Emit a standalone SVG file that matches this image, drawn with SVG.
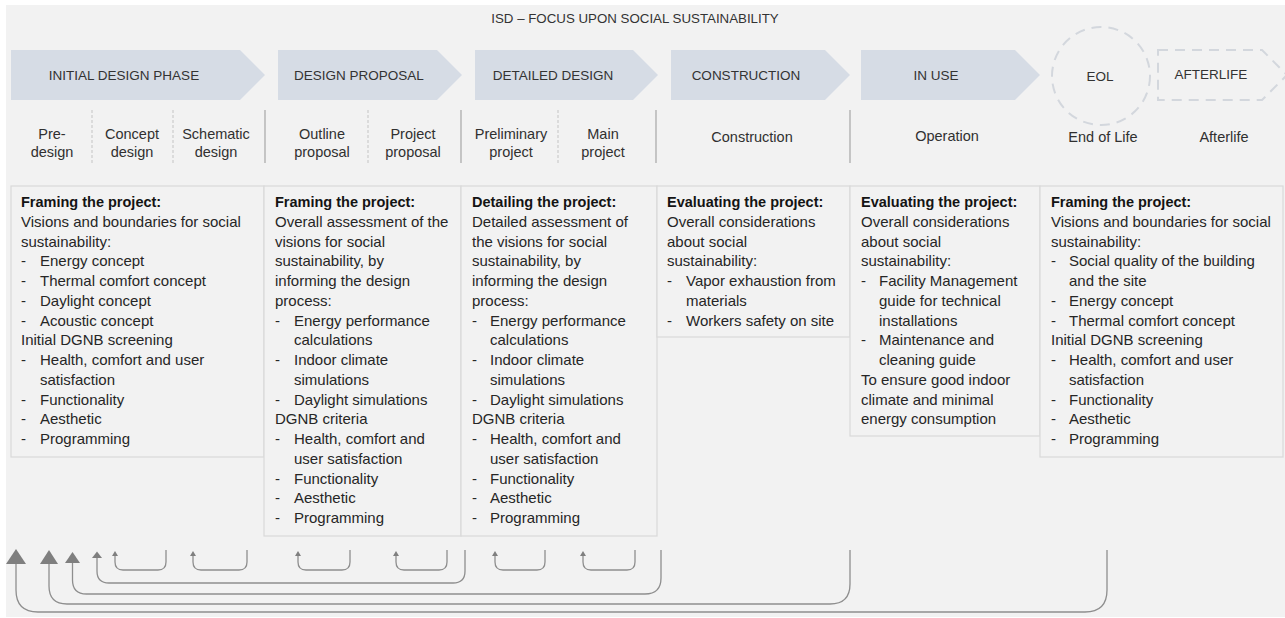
<svg xmlns="http://www.w3.org/2000/svg" width="1285" height="618" viewBox="0 0 1285 618">
<defs>
<style>
.bg{fill:#f2f2f2}
.chev{fill:#d6dce5}
.dash{fill:none;stroke:#d3d7dd;stroke-width:2;stroke-dasharray:10 7}
.ttl{font-family:"Liberation Sans",Arial,sans-serif;font-size:13.3px;fill:#333333}
.ph{font-family:"Liberation Sans",Arial,sans-serif;font-size:13.5px;fill:#333333;text-anchor:middle}
.sub{font-family:"Liberation Sans",Arial,sans-serif;font-size:14.5px;fill:#303030;text-anchor:middle}
.sepd{stroke:#c4c4c4;stroke-width:1;stroke-dasharray:3 2}
.seps{stroke:#a6a6a6;stroke-width:1.2}
.box{fill:#f2f2f2;stroke:#d9d9d9;stroke-width:1.2}
.bt{font-family:"Liberation Sans",Arial,sans-serif;font-size:15px;fill:#262626}
.bh{font-weight:bold;font-size:14.5px;fill:#141414}
.ln{fill:none;stroke:#8e8e8e;stroke-width:1.3}
.ah{fill:#7f7f7f}
</style>
</defs>
<rect class="bg" x="6" y="5" width="1279" height="612"/>
<text class="ttl" x="635" y="23" text-anchor="middle">ISD – FOCUS UPON SOCIAL SUSTAINABILITY</text>

<g id="phase-initial">
<polygon class="chev" points="11,50 240,50 265,75 240,100 11,100"/>
<text class="ph" x="124" y="80">INITIAL DESIGN PHASE</text>
<text class="sub" x="52" y="139">Pre-</text><text class="sub" x="52" y="157">design</text>
<line class="sepd" x1="92" y1="110" x2="92" y2="163"/>
<text class="sub" x="132" y="139">Concept</text><text class="sub" x="132" y="157">design</text>
<line class="sepd" x1="173" y1="110" x2="173" y2="163"/>
<text class="sub" x="216" y="139">Schematic</text><text class="sub" x="216" y="157">design</text>
<line class="seps" x1="265" y1="110" x2="265" y2="163"/>
</g>
<g id="phase-proposal">
<polygon class="chev" points="278,50 437,50 462,75 437,100 278,100"/>
<text class="ph" x="359" y="80">DESIGN PROPOSAL</text>
<text class="sub" x="322" y="139">Outline</text><text class="sub" x="322" y="157">proposal</text>
<line class="sepd" x1="368" y1="110" x2="368" y2="163"/>
<text class="sub" x="413" y="139">Project</text><text class="sub" x="413" y="157">proposal</text>
<line class="seps" x1="461" y1="110" x2="461" y2="163"/>
</g>
<g id="phase-detailed">
<polygon class="chev" points="475,50 633,50 658,75 633,100 475,100"/>
<text class="ph" x="553" y="80">DETAILED DESIGN</text>
<text class="sub" x="511" y="139">Preliminary</text><text class="sub" x="511" y="157">project</text>
<line class="sepd" x1="558" y1="110" x2="558" y2="163"/>
<text class="sub" x="603" y="139">Main</text><text class="sub" x="603" y="157">project</text>
<line class="seps" x1="656" y1="110" x2="656" y2="163"/>
</g>
<g id="phase-construction">
<polygon class="chev" points="671,50 825,50 850,75 825,100 671,100"/>
<text class="ph" x="746" y="80">CONSTRUCTION</text>
<text class="sub" x="752" y="142">Construction</text>
<line class="seps" x1="850" y1="110" x2="850" y2="163"/>
</g>
<g id="phase-inuse">
<polygon class="chev" points="861,50 1015,50 1040,75 1015,100 861,100"/>
<text class="ph" x="936" y="80">IN USE</text>
<text class="sub" x="947" y="141">Operation</text>
</g>
<g id="phase-eol">
<circle class="dash" cx="1101" cy="76" r="49"/>
<text class="ph" x="1100" y="81">EOL</text>
<text class="sub" x="1103" y="142">End of Life</text>
</g>
<g id="phase-afterlife">
<polygon class="dash" points="1158,50 1262,50 1287,75 1262,100 1158,100"/>
<text class="ph" x="1211" y="79">AFTERLIFE</text>
<text class="sub" x="1224" y="142">Afterlife</text>
</g>

<g id="box-initial">
<rect class="box" x="11" y="186" width="253" height="271"/>
<text class="bt">
<tspan class="bh" x="21" y="207">Framing the project:</tspan>
<tspan x="21" y="226.75">Visions and boundaries for social</tspan>
<tspan x="21" y="246.5">sustainability:</tspan>
<tspan x="21" y="266.25">-</tspan><tspan x="40" y="266.25">Energy concept</tspan>
<tspan x="21" y="286">-</tspan><tspan x="40" y="286">Thermal comfort concept</tspan>
<tspan x="21" y="305.75">-</tspan><tspan x="40" y="305.75">Daylight concept</tspan>
<tspan x="21" y="325.5">-</tspan><tspan x="40" y="325.5">Acoustic concept</tspan>
<tspan x="21" y="345.25">Initial DGNB screening</tspan>
<tspan x="21" y="365">-</tspan><tspan x="40" y="365">Health, comfort and user</tspan>
<tspan x="40" y="384.75">satisfaction</tspan>
<tspan x="21" y="404.5">-</tspan><tspan x="40" y="404.5">Functionality</tspan>
<tspan x="21" y="424.25">-</tspan><tspan x="40" y="424.25">Aesthetic</tspan>
<tspan x="21" y="444">-</tspan><tspan x="40" y="444">Programming</tspan>
</text>
</g>
<g id="box-proposal">
<rect class="box" x="264" y="186" width="197" height="350"/>
<text class="bt">
<tspan class="bh" x="275" y="207">Framing the project:</tspan>
<tspan x="275" y="226.75">Overall assessment of the</tspan>
<tspan x="275" y="246.5">visions for social</tspan>
<tspan x="275" y="266.25">sustainability, by</tspan>
<tspan x="275" y="286">informing the design</tspan>
<tspan x="275" y="305.75">process:</tspan>
<tspan x="275" y="325.5">-</tspan><tspan x="294" y="325.5">Energy performance</tspan>
<tspan x="294" y="345.25">calculations</tspan>
<tspan x="275" y="365">-</tspan><tspan x="294" y="365">Indoor climate</tspan>
<tspan x="294" y="384.75">simulations</tspan>
<tspan x="275" y="404.5">-</tspan><tspan x="294" y="404.5">Daylight simulations</tspan>
<tspan x="275" y="424.25">DGNB criteria</tspan>
<tspan x="275" y="444">-</tspan><tspan x="294" y="444">Health, comfort and</tspan>
<tspan x="294" y="463.75">user satisfaction</tspan>
<tspan x="275" y="483.5">-</tspan><tspan x="294" y="483.5">Functionality</tspan>
<tspan x="275" y="503.25">-</tspan><tspan x="294" y="503.25">Aesthetic</tspan>
<tspan x="275" y="523">-</tspan><tspan x="294" y="523">Programming</tspan>
</text>
</g>
<g id="box-detailed">
<rect class="box" x="461" y="186" width="196" height="350"/>
<text class="bt">
<tspan class="bh" x="472" y="207">Detailing the project:</tspan>
<tspan x="472" y="226.75">Detailed assessment of</tspan>
<tspan x="472" y="246.5">the visions for social</tspan>
<tspan x="472" y="266.25">sustainability, by</tspan>
<tspan x="472" y="286">informing the design</tspan>
<tspan x="472" y="305.75">process:</tspan>
<tspan x="472" y="325.5">-</tspan><tspan x="490" y="325.5">Energy performance</tspan>
<tspan x="490" y="345.25">calculations</tspan>
<tspan x="472" y="365">-</tspan><tspan x="490" y="365">Indoor climate</tspan>
<tspan x="490" y="384.75">simulations</tspan>
<tspan x="472" y="404.5">-</tspan><tspan x="490" y="404.5">Daylight simulations</tspan>
<tspan x="472" y="424.25">DGNB criteria</tspan>
<tspan x="472" y="444">-</tspan><tspan x="490" y="444">Health, comfort and</tspan>
<tspan x="490" y="463.75">user satisfaction</tspan>
<tspan x="472" y="483.5">-</tspan><tspan x="490" y="483.5">Functionality</tspan>
<tspan x="472" y="503.25">-</tspan><tspan x="490" y="503.25">Aesthetic</tspan>
<tspan x="472" y="523">-</tspan><tspan x="490" y="523">Programming</tspan>
</text>
</g>
<g id="box-construction">
<rect class="box" x="657" y="186" width="193" height="151"/>
<text class="bt">
<tspan class="bh" x="667" y="207">Evaluating the project:</tspan>
<tspan x="667" y="226.75">Overall considerations</tspan>
<tspan x="667" y="246.5">about social</tspan>
<tspan x="667" y="266.25">sustainability:</tspan>
<tspan x="667" y="286">-</tspan><tspan x="686" y="286">Vapor exhaustion from</tspan>
<tspan x="686" y="305.75">materials</tspan>
<tspan x="667" y="325.5">-</tspan><tspan x="686" y="325.5">Workers safety on site</tspan>
</text>
</g>
<g id="box-inuse">
<rect class="box" x="850" y="186" width="190" height="250"/>
<text class="bt">
<tspan class="bh" x="861" y="207">Evaluating the project:</tspan>
<tspan x="861" y="226.75">Overall considerations</tspan>
<tspan x="861" y="246.5">about social</tspan>
<tspan x="861" y="266.25">sustainability:</tspan>
<tspan x="861" y="286">-</tspan><tspan x="879" y="286">Facility Management</tspan>
<tspan x="879" y="305.75">guide for technical</tspan>
<tspan x="879" y="325.5">installations</tspan>
<tspan x="861" y="345.25">-</tspan><tspan x="879" y="345.25">Maintenance and</tspan>
<tspan x="879" y="365">cleaning guide</tspan>
<tspan x="861" y="384.75">To ensure good indoor</tspan>
<tspan x="861" y="404.5">climate and minimal</tspan>
<tspan x="861" y="424.25">energy consumption</tspan>
</text>
</g>
<g id="box-eol">
<rect class="box" x="1040" y="186" width="243" height="271"/>
<text class="bt">
<tspan class="bh" x="1051" y="207">Framing the project:</tspan>
<tspan x="1051" y="226.75">Visions and boundaries for social</tspan>
<tspan x="1051" y="246.5">sustainability:</tspan>
<tspan x="1051" y="266.25">-</tspan><tspan x="1069" y="266.25">Social quality of the building</tspan>
<tspan x="1069" y="286">and the site</tspan>
<tspan x="1051" y="305.75">-</tspan><tspan x="1069" y="305.75">Energy concept</tspan>
<tspan x="1051" y="325.5">-</tspan><tspan x="1069" y="325.5">Thermal comfort concept</tspan>
<tspan x="1051" y="345.25">Initial DGNB screening</tspan>
<tspan x="1051" y="365">-</tspan><tspan x="1069" y="365">Health, comfort and user</tspan>
<tspan x="1069" y="384.75">satisfaction</tspan>
<tspan x="1051" y="404.5">-</tspan><tspan x="1069" y="404.5">Functionality</tspan>
<tspan x="1051" y="424.25">-</tspan><tspan x="1069" y="424.25">Aesthetic</tspan>
<tspan x="1051" y="444">-</tspan><tspan x="1069" y="444">Programming</tspan>
</text>
</g>

<g id="connectors">
<path class="ln" d="M16,563 V590 Q16,612 38,612 H1085 Q1107,612 1107,590 V550"/>
<polygon class="ah" points="6,564 16,549 26,564"/>
<path class="ln" d="M49,563 V586 Q49,604 67,604 H830 Q850,604 850,584 V550"/>
<polygon class="ah" points="40,564 49,550 58,564"/>
<path class="ln" d="M72.5,562 V580 Q72.5,594 86.5,594 H645 Q661,594 661,578 V550"/>
<polygon class="ah" points="65,563 72.5,552 80,563"/>
<path class="ln" d="M97,557 V571 Q97,583 109,583 H453 Q465,583 465,571 V550"/>
<polygon class="ah" points="92,558 97,551.5 102,558"/>
<path class="ln" d="M115,555 V562 Q115,570 123,570 H158 Q166,570 166,562 V550"/>
<polygon class="ah" points="112,556 115,551 118,556"/>
<path class="ln" d="M193,555 V562 Q193,570 201,570 H239 Q247,570 247,562 V550"/>
<polygon class="ah" points="190,556 193,551 196,556"/>
<path class="ln" d="M298,555 V562 Q298,570 306,570 H342 Q350,570 350,562 V550"/>
<polygon class="ah" points="295,556 298,551 301,556"/>
<path class="ln" d="M396,555 V562 Q396,570 404,570 H439 Q447,570 447,562 V550"/>
<polygon class="ah" points="393,556 396,551 399,556"/>
<path class="ln" d="M495,555 V562 Q495,570 503,570 H537 Q545,570 545,562 V550"/>
<polygon class="ah" points="492,556 495,551 498,556"/>
<path class="ln" d="M583,555 V562 Q583,570 591,570 H627 Q635,570 635,562 V550"/>
<polygon class="ah" points="580,556 583,551 586,556"/>
</g>
</svg>
